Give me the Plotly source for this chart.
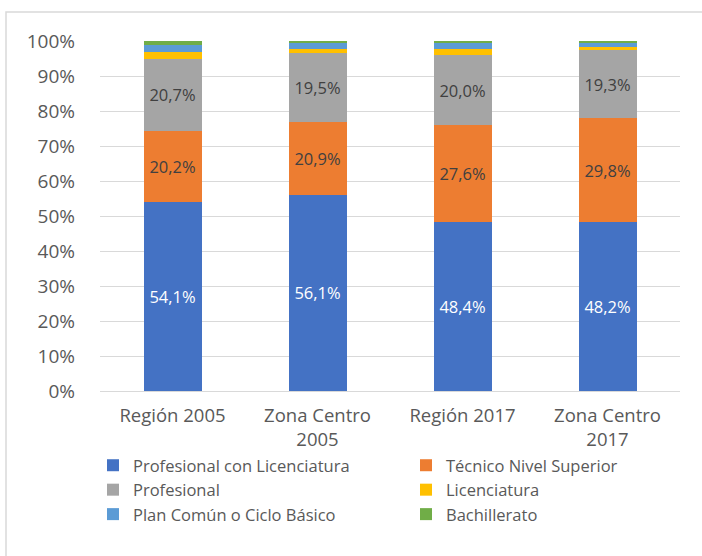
import plotly.graph_objects as go

categories = ["Región 2005", "Zona Centro<br>2005", "Región 2017", "Zona Centro<br>2017"]

prof_lic = [54.1, 56.1, 48.4, 48.2]
tecnico = [20.2, 20.9, 27.6, 29.8]
profesional = [20.7, 19.5, 20.0, 19.3]
licenciatura = [2.0, 1.2, 1.8, 1.0]
plan_comun = [2.0, 1.6, 1.6, 1.1]
bachillerato = [1.0, 0.7, 0.6, 0.6]

series = [
    ("Profesional con Licenciatura", prof_lic, "#4472C4", True, "white"),
    ("Técnico Nivel Superior", tecnico, "#ED7D31", True, "#404040"),
    ("Profesional", profesional, "#A5A5A5", True, "#404040"),
    ("Licenciatura", licenciatura, "#FFC000", False, "#404040"),
    ("Plan Común o Ciclo Básico", plan_comun, "#5B9BD5", False, "#404040"),
    ("Bachillerato", bachillerato, "#70AD47", False, "#404040"),
]

fig = go.Figure()
for name, vals, color, show, tcol in series:
    fig.add_trace(go.Bar(
        name=name, x=categories, y=vals,
        marker=dict(color=color, line=dict(width=0)),
        text=[f"{v:.1f}%".replace(".", ",") for v in vals] if show else None,
        textposition="inside" if show else "none",
        insidetextanchor="middle",
        textfont=dict(color=tcol, size=16.5, family="Open Sans"),
        width=0.4,
        hoverinfo="skip",
    ))

fig.update_layout(
    barmode="stack",
    width=702, height=556,
    margin=dict(l=100, r=22, t=41, b=165, autoexpand=False),
    paper_bgcolor="white", plot_bgcolor="white",
    font=dict(family="Open Sans", color="#595959", size=17),
    xaxis=dict(showgrid=False, showline=True, linecolor="#D9D9D9", linewidth=1,
               tickfont=dict(size=18.5, color="#595959"), ticks="",
               ticklabelstandoff=8),
    yaxis=dict(range=[0, 100], dtick=10, ticksuffix="%", showgrid=True,
               gridcolor="#D9D9D9", gridwidth=1, zeroline=False, showline=False,
               tickfont=dict(size=19, color="#595959"), ticklabelstandoff=24),
    legend=dict(orientation="h", x=-7 / 580, y=(391 - 448) / 350,
                xanchor="left", yanchor="top", bgcolor="rgba(0,0,0,0)",
                entrywidth=268, entrywidthmode="pixels", traceorder="normal",
                font=dict(size=16.5, color="#595959"), itemwidth=30,
                tracegroupgap=0),
    showlegend=True,
    shapes=[dict(type="rect", xref="paper", yref="paper",
                 x0=(6 - 100) / 580, x1=(730 - 100) / 580,
                 y0=(391 - 600) / 350, y1=(391 - 12) / 350,
                 line=dict(color="#D9D9D9", width=1.5), layer="below")],
)

fig.write_html("out.html", post_script="document.body.style.margin='0';",
               config={"displayModeBar": False})
